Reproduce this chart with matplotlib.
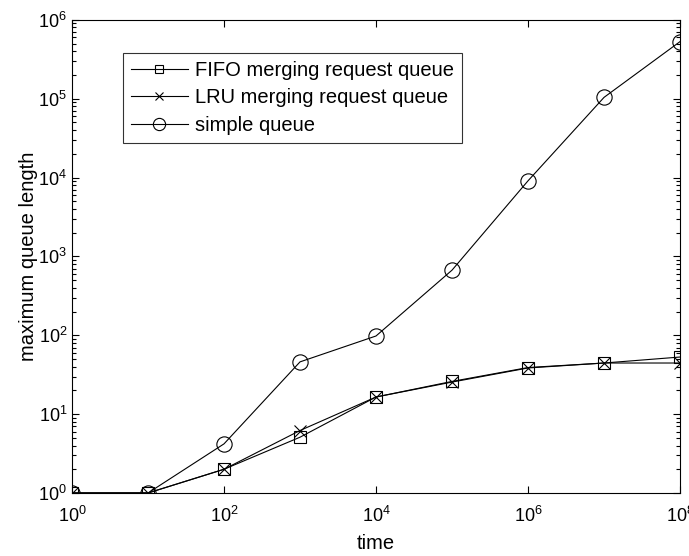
import matplotlib
matplotlib.use("Agg")
import matplotlib.pyplot as plt
from matplotlib.ticker import LogLocator, NullLocator, NullFormatter

plt.rcParams['font.family'] = ['Liberation Sans', 'DejaVu Sans']
plt.rcParams['mathtext.fontset'] = 'custom'
plt.rcParams['mathtext.rm'] = 'Liberation Sans'
plt.rcParams['mathtext.it'] = 'Liberation Sans'

# data
time = [1e0, 1e1, 1e2, 1e3, 1e4, 1e5, 1e6, 1e7, 1e8]
fifo = [1, 1, 2, 5.1, 16.5, 26, 39, 44.5, 53]
lru = [1, 1, 2, 6.2, 16.5, 25.5, 38.5, 44.5, 44.5]
simple = [1, 1, 4.2, 46, 98, 670, 9100, 104000, 530000]

labels = ['FIFO merging request queue', 'LRU merging request queue', 'simple queue']

fig = plt.figure(figsize=(6.89, 5.56), dpi=100)
ax = fig.add_axes([0.1045, 0.1133, 0.8825, 0.851])

ax.plot(time, fifo, color='black', lw=0.8, marker='s', ms=8, mfc='none', mec='black', mew=0.8, label=labels[0])
ax.plot(time, lru, color='black', lw=0.8, marker='x', ms=8, mec='black', mew=0.8, label=labels[1])
ax.plot(time, simple, color='black', lw=0.8, marker='o', ms=11, mfc='none', mec='black', mew=0.8, label=labels[2])

ax.set_xscale('log')
ax.set_yscale('log')
ax.set_xlim(1, 1e8)
ax.set_ylim(1, 1e6)

ax.set_xticks([1e0, 1e2, 1e4, 1e6, 1e8])
ax.xaxis.set_minor_locator(NullLocator())
ax.yaxis.set_major_locator(LogLocator(base=10, subs=(1.0,), numticks=20))
ax.yaxis.set_minor_locator(LogLocator(base=10, subs=range(2, 10), numticks=20))
ax.yaxis.set_minor_formatter(NullFormatter())

ax.tick_params(which='both', direction='in', top=True, right=True, labelsize=13, width=0.8)
ax.tick_params(which='major', length=5)
ax.tick_params(which='minor', length=3)
ax.tick_params(axis='x', pad=9)
for s in ax.spines.values():
    s.set_linewidth(0.8)

ax.set_xlabel('time', fontsize=14.5, labelpad=6)
ax.set_ylabel('maximum queue length', fontsize=14.5, labelpad=0)

leg = ax.legend(loc='upper left', bbox_to_anchor=(0.084, 0.93), fontsize=14.5,
                frameon=True, fancybox=False, edgecolor='black', handlelength=2.8,
                borderpad=0.4, labelspacing=0.42, handletextpad=0.35, borderaxespad=0,
                markerscale=0.8)
leg.get_frame().set_linewidth(0.8)

fig.savefig('out.png', dpi=100)
